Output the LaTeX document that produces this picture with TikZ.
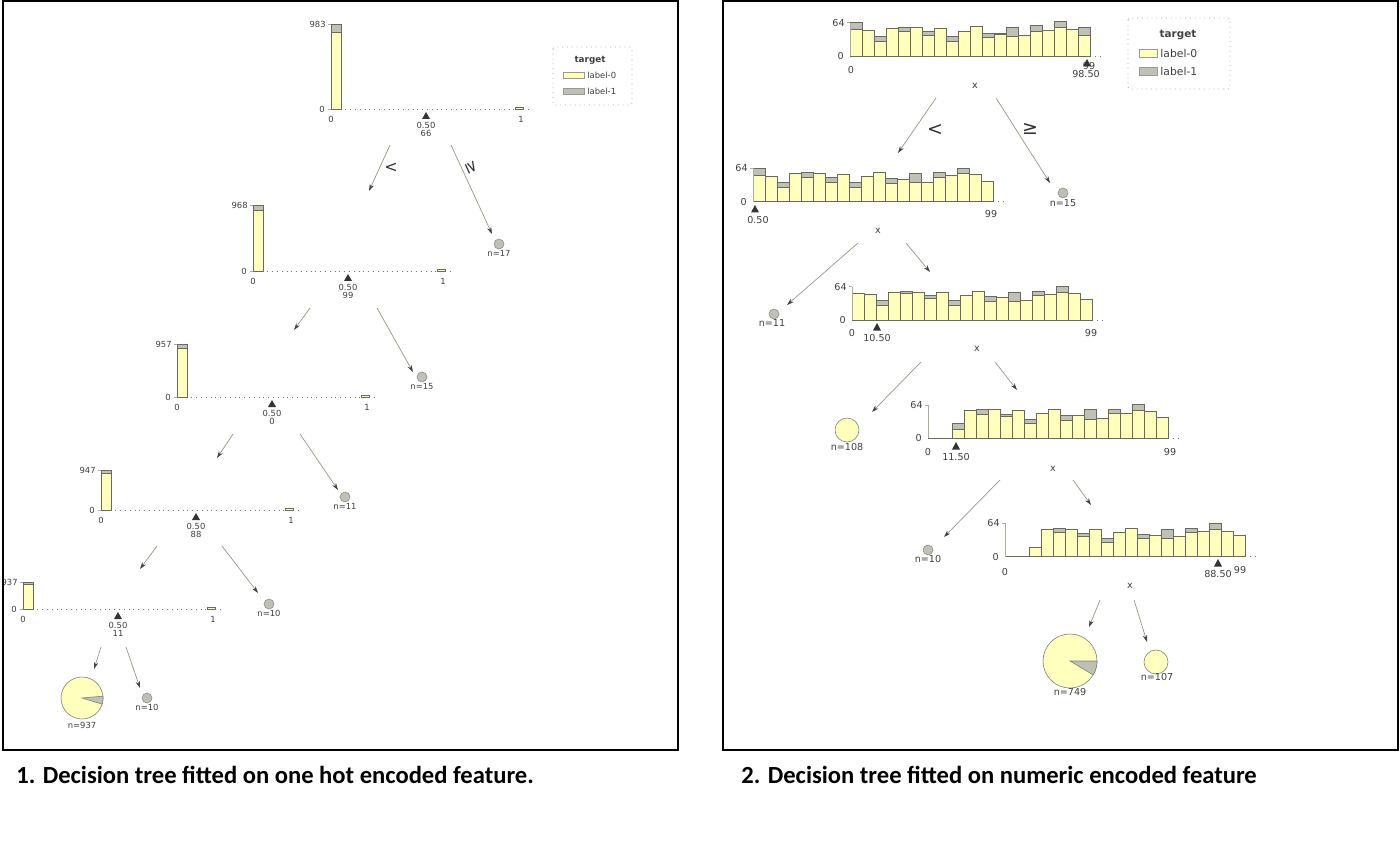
\documentclass[tikz,border=0pt]{standalone}
\usepackage{fontspec}
\setmainfont{DejaVu Sans}
\newfontfamily\capfont{Carlito}
\usetikzlibrary{arrows.meta}

\definecolor{labzero}{RGB}{255,255,190}
\definecolor{labone}{RGB}{190,194,182}
\definecolor{barline}{RGB}{105,105,95}
\definecolor{axisgray}{RGB}{170,170,160}
\definecolor{edgegray}{RGB}{150,150,135}

\tikzset{
  lbl/.style={inner sep=0pt,font=\fontsize{4.2}{5}\selectfont,text=black!75},
  rlbl/.style={inner sep=0pt,font=\fontsize{4.8}{5.5}\selectfont,text=black!75},
  edge/.style={draw=edgegray,line width=0.35pt,-{Stealth[length=3.5pt,width=2.2pt,color=black!75]}},
  leafdot/.style={circle,draw=black!45,fill=labone,line width=0.3pt,minimum size=5pt,inner sep=0pt},
  piechart/.style={circle,draw=black!50,fill=labzero,line width=0.3pt,inner sep=0pt},
  bar0/.style={fill=labzero,draw=barline,line width=0.3pt},
  bar1/.style={fill=labone,draw=barline,line width=0.3pt},
  axisline/.style={draw=axisgray,line width=0.4pt},
  xaxisdots/.style={draw=black!55,line width=0.4pt,dotted},
  panelframe/.style={draw=black,line width=1pt},
  legbox/.style={draw=black!35,dotted,rounded corners=1pt,line width=0.4pt},
  captext/.style={inner sep=0pt,anchor=west,font=\capfont\bfseries\fontsize{12.3}{14}\selectfont},
  cond/.style={inner sep=0pt,text=black!80},
}

% histogram of a one hot feature: name, axis x, baseline, height, grey part, top count, split value
\newcommand{\onehotplot}[7]{%
  \draw[axisline] (#2,#3) -- (#2,#3-#4);
  \draw[axisline] (#2-3,#3-#4) -- (#2,#3-#4);
  \draw[axisline] (#2-3,#3) -- (#2,#3);
  \filldraw[bar0] (#2,#3) rectangle (#2+10,#3-#4+#5);
  \filldraw[bar1] (#2,#3-#4+#5) rectangle (#2+10,#3-#4);
  \filldraw[bar0] (#2+184,#3) rectangle (#2+192,#3-1.5);
  \draw[xaxisdots] (#2,#3) -- (#2+200,#3);
  \node[lbl,anchor=east] (#1top) at (#2-5,#3-#4) {#6};
  \node[lbl,anchor=east] (#1zero) at (#2-6,#3) {0};
  \node[lbl] (#1xa) at (#2,#3+10) {0};
  \node[lbl] (#1xb) at (#2+190,#3+10) {1};
  \fill[black!80] (#2+95,#3+3) -- (#2+99,#3+10) -- (#2+91,#3+10) -- cycle;
  \node[lbl] (#1thr) at (#2+95,#3+16) {0.50};
  \node[lbl] (#1val) at (#2+95,#3+24) {#7};
}

% histogram of the numeric feature: name, axis x, baseline, first bar x, axis end, bars total/yellow
\newcommand{\numplot}[6]{%
  \draw[xaxisdots] (#2,#3) -- (#5,#3);
  \draw[draw=barline,line width=0.5pt] (#2,#3) -- (#4,#3);
  \foreach \tot/\yel [count=\i from 0] in {#6} {
    \filldraw[bar0] (#4+12*\i,#3) rectangle (#4+12*\i+12,#3-0.52*\yel);
    \filldraw[bar1] (#4+12*\i,#3-0.52*\yel) rectangle (#4+12*\i+12,#3-0.52*\tot);
  }
  \draw[axisline] (#2,#3) -- (#2,#3-33.3);
  \draw[axisline] (#2-3,#3-33.3) -- (#2,#3-33.3);
  \node[rlbl,anchor=east] (#1top) at (#2-5,#3-33.3) {64};
  \node[rlbl,anchor=east] (#1zero) at (#2-6,#3) {0};
}

\newcommand{\splitmark}[2]{\fill[black!80] (#1,#2) -- (#1+4,#2+7.5) -- (#1-4,#2+7.5) -- cycle;}

\begin{document}
\begin{tikzpicture}[x=0.5pt,y=-0.5pt]
\useasboundingbox (0,0) rectangle (1400,855);
\fill[white] (0,0) rectangle (1400,855);

%% left panel: one hot encoded feature
\onehotplot{a}{331}{109}{85}{8}{983}{66}
\onehotplot{b}{253}{271}{66}{5}{968}{99}
\onehotplot{c}{177}{397}{53}{4}{957}{0}
\onehotplot{d}{101}{510}{40}{3}{947}{88}
\onehotplot{e}{23}{609}{27}{2}{937}{11}

% leaves
\node[leafdot] (la) at (499,244) {};
\node[lbl] (lan) at (499,253) {n=17};
\node[leafdot] (lb) at (422,377) {};
\node[lbl] (lbn) at (422,386) {n=15};
\node[leafdot] (lc) at (345,497) {};
\node[lbl] (lcn) at (345,506) {n=11};
\node[leafdot] (ld) at (269,604) {};
\node[lbl] (ldn) at (269,613) {n=10};
\node[leafdot] (le) at (147,698) {};
\node[lbl] (len) at (147,707) {n=10};
\node[piechart,minimum size=21pt] (lpie) at (82,698) {};
\filldraw[fill=labone,draw=black!50,line width=0.3pt] (lpie.center) -- plot[domain=-5:17,samples=8] ({82+21*cos(\x)},{698+21*sin(\x)}) -- cycle;
\node[lbl] (lpien) at (82,725) {n=937};

% edges
\foreach \n/\sx/\sy/\ex/\ey in {
    ea1/390/145/369/191, ea2/451/145/492/234,
    eb1/310/308/294/330, eb2/377/308/413/372,
    ec1/233/434/217/458, ec2/300/434/338/490,
    ed1/157/546/140/569, ed2/222/546/258/593,
    ee1/101/647/94/669, ee2/126/647/140/688} {
  \coordinate (\n s) at (\sx,\sy);
  \coordinate (\n e) at (\ex,\ey);
  \draw[edge] (\n s) -- (\n e);
}
\node[cond,font=\fontsize{8}{8}\selectfont] (lt) at (391,168) {<};
\node[cond,font=\fontsize{8}{8}\selectfont,rotate=-65] (ge) at (472,168) {≥};

% legend
\draw[legbox] (553,47) rectangle (632,105);
\node[lbl,font=\bfseries\fontsize{4.4}{5}\selectfont] (lleg) at (590,60) {target};
\filldraw[bar0,draw=black!40] (563,72) rectangle (584,78);
\node[lbl,anchor=west] (lleg0) at (587,75) {label-0};
\filldraw[bar1,draw=black!40] (563,88) rectangle (584,94);
\node[lbl,anchor=west] (lleg1) at (587,91) {label-1};

%% right panel: numeric encoded feature
\numplot{p}{850}{56}{850}{1100}{64/52,50/50,38/28,54/54,56/47,55/55,48/40,54/54,37/28,48/48,57/57,44/35,44/42,56/38,39/39,59/47,50/50,66/56,52/51,56/40}
\node[rlbl] (pxa) at (851,70) {0};
\node[rlbl] (pxb) at (1089,66) {99};
\splitmark{1087}{59}
\node[rlbl] (pthr) at (1086,74) {98.50};
\node[rlbl] (pvar) at (975,86) {x};

\numplot{q}{753}{201.7}{753}{1005}{64/51,48/48,38/28,54/54,56/47,54/54,47/38,53/53,37/28,48/48,56/56,45/35,44/43,54/37,38/38,56/47,50/50,65/54,52/52,40/40}
\splitmark{755}{205}
\node[rlbl] (qthr) at (758,220) {0.50};
\node[rlbl] (qxb) at (991,214) {99};
\node[rlbl] (qvar) at (878,231) {x};

\numplot{s}{852}{320}{852}{1102}{52/52,49/49,38/29,53/53,56/52,54/54,47/42,54/54,37/29,48/48,56/56,45/35,43/43,54/36,38/38,56/48,50/50,65/54,51/51,40/40}
\node[rlbl] (sxa) at (852,333) {0};
\splitmark{877}{323}
\node[rlbl] (sthr) at (877,338) {10.50};
\node[rlbl] (sxb) at (1091,333) {99};
\node[rlbl] (svar) at (977,349) {x};

\numplot{t}{928}{438.3}{952}{1178}{29/18,53/53,56/47,55/55,47/42,53/53,37/29,48/48,55/55,45/34,44/44,55/37,38/38,56/49,49/49,65/53,51/51,40/40}
\node[rlbl] (txa) at (928,452) {0};
\splitmark{956}{442}
\node[rlbl] (tthr) at (956,457) {11.50};
\node[rlbl] (txb) at (1170,452) {99};
\node[rlbl] (tvar) at (1053,469) {x};

\numplot{u}{1005}{556.7}{1029}{1255}{19/19,53/53,55/46,53/53,45/40,53/53,36/27,46/46,55/55,44/35,41/41,53/36,39/39,55/46,49/49,64/53,49/49,41/41}
\node[rlbl] (uxa) at (1005,572) {0};
\splitmark{1218}{559}
\node[rlbl] (uthr) at (1218,574) {88.50};
\node[rlbl] (uxb) at (1240,570) {99};
\node[rlbl] (uvar) at (1130,586) {x};

% leaves
\node[leafdot] (ra) at (1063,193) {};
\node[rlbl] (ran) at (1063,203) {n=15};
\node[leafdot] (rb) at (774,314) {};
\node[rlbl] (rbn) at (772,323) {n=11};
\node[piechart,minimum size=12pt] (rc) at (847,430) {};
\node[rlbl] (rcn) at (847,447) {n=108};
\node[leafdot] (rd) at (928,550) {};
\node[rlbl] (rdn) at (928,559) {n=10};
\node[piechart,minimum size=27pt] (rpie) at (1070,661) {};
\filldraw[fill=labone,draw=black!50,line width=0.3pt] (rpie.center) -- plot[domain=0:31,samples=8] ({1070+27*cos(\x)},{661+27*sin(\x)}) -- cycle;
\node[rlbl] (rpien) at (1070,692) {n=749};
\node[piechart,minimum size=12pt] (rf) at (1156,662) {};
\node[rlbl] (rfn) at (1157,677) {n=107};

% edges
\foreach \n/\sx/\sy/\ex/\ey in {
    fa1/936/98/898/153, fa2/996/98/1050/183,
    fb1/858/243/787/305, fb2/906/243/930/272,
    fc1/921/362/872/412, fc2/995/362/1017/390,
    fd1/1000/480/944/537, fd2/1073/480/1091/505,
    fe1/1100/600/1089/627, fe2/1134/600/1147/642} {
  \coordinate (\n s) at (\sx,\sy);
  \coordinate (\n e) at (\ex,\ey);
  \draw[edge] (\n s) -- (\n e);
}
\node[cond,font=\fontsize{9.5}{10}\selectfont] (rlt) at (935,130) {<};
\node[cond,font=\fontsize{9.5}{10}\selectfont] (rge) at (1030,129) {≥};

% legend
\draw[legbox] (1128,18) rectangle (1230,89);
\node[rlbl,font=\bfseries\fontsize{5.2}{6}\selectfont] (rleg) at (1178,35) {target};
\filldraw[bar0,draw=black!40] (1139,49) rectangle (1157,57);
\node[rlbl,anchor=west,font=\fontsize{5.4}{6}\selectfont] (rleg0) at (1160,53) {label-0};
\filldraw[bar1,draw=black!40] (1139,67) rectangle (1157,75);
\node[rlbl,anchor=west,font=\fontsize{5.4}{6}\selectfont] (rleg1) at (1160,71) {label-1};

%% frames and captions
\draw[panelframe] (3,1) rectangle (678,750);
\draw[panelframe] (723,1) rectangle (1398,750);
\node[captext] (capa) at (16,775) {1. Decision tree fitted on one hot encoded feature.};
\node[captext] (capb) at (741,775) {2. Decision tree fitted on numeric encoded feature};
\end{tikzpicture}
\end{document}
